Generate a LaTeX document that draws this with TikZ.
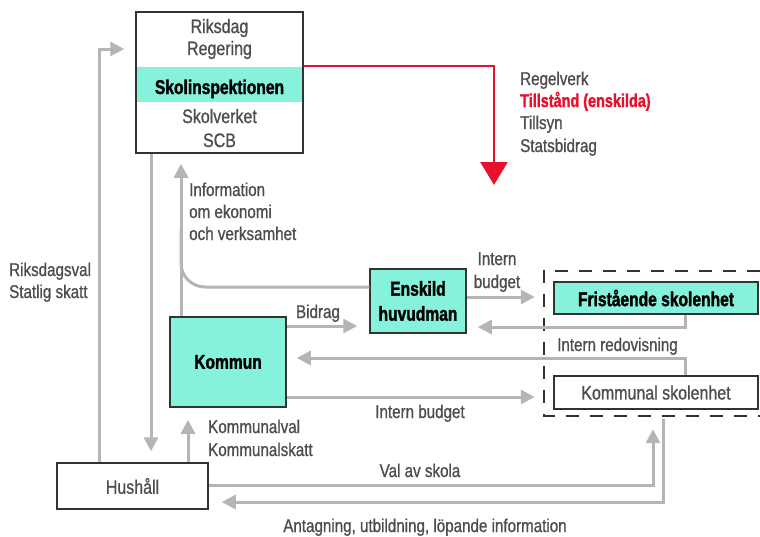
\documentclass[tikz,border=0pt]{standalone}
\usepackage{fontspec}
\setmainfont[FakeStretch=0.82, FakeBold=0.9]{Liberation Sans}
\newfontfamily\heavyfont[FakeStretch=0.78, BoldFeatures={FakeBold=1.6}]{Liberation Sans}
\usetikzlibrary{arrows.meta}
\definecolor{tealfill}{HTML}{86F2DC}
\definecolor{txtgray}{HTML}{4D4D4D}
\definecolor{linegray}{HTML}{B5B5B5}
\definecolor{redc}{HTML}{E8112D}
\definecolor{boxline}{HTML}{333333}
\begin{document}
\begin{tikzpicture}[x=1pt,y=-1pt,
  box/.style={draw=boxline, line width=1.5pt, inner sep=0pt, text=txtgray, font=\fontsize{19.5}{24}\selectfont, align=center},
  tealbox/.style={box, fill=tealfill, text=black, font=\heavyfont\bfseries\fontsize{20}{25}\selectfont},
  grpline/.style={draw=boxline, line width=1.5pt, dash pattern=on 13pt off 11pt},
  lbl/.style={text=txtgray, font=\fontsize{18.5}{23}\selectfont, inner sep=0pt},
  boxtxt/.style={text=txtgray, font=\fontsize{19.5}{24}\selectfont, inner sep=0pt},
  boldtxt/.style={text=black, font=\heavyfont\bfseries\fontsize{20}{25}\selectfont, inner sep=0pt},
  conn/.style={draw=linegray, line width=3pt, -{Triangle[length=14pt,width=14pt]}},
  plainline/.style={draw=linegray, line width=3pt},
  redarrow/.style={draw=redc, line width=2.5pt, -{Triangle[length=23pt,width=27pt]}},
]
\clip (0,0) rectangle (760,536);
\useasboundingbox (0,0) rectangle (760,536);

% teal band of the top box
\fill[tealfill] (136,67) rectangle (303,102);
% boxes
\node[box, minimum width=167pt, minimum height=141pt] (top) at (219.5,82.5) {};
\node[tealbox, minimum width=116pt, minimum height=90pt] (kommun) at (228,362) {Kommun};
\node[tealbox, minimum width=96pt, minimum height=64pt] (enskild) at (418,301) {Enskild\\huvudman};
\node[inner sep=0pt, minimum width=216pt, minimum height=145pt] (grp) at (652,343.5) {};
\draw[grpline] (grp.north east) -- (grp.north west) -- (grp.south west) -- (grp.south east);
\node[tealbox, minimum width=204pt, minimum height=32pt] (fri) at (656,298) {Fristående skolenhet};
\node[box, fill=white, minimum width=204pt, minimum height=33pt] (kskol) at (656,392.5) {Kommunal skolenhet};
\node[box, minimum width=151pt, minimum height=46pt] (hush) at (132.5,486) {Hushåll};

% top box texts
\node[boxtxt, anchor=base] (riks) at (219.5,33) {Riksdag};
\node[boxtxt, anchor=base] (reg) at (219.5,55) {Regering};
\node[boldtxt, anchor=base] (skolinsp) at (219.5,94) {Skolinspektionen};
\node[boxtxt, anchor=base] (skolverk) at (219.5,123) {Skolverket};
\node[boxtxt, anchor=base] (scb) at (219.5,147) {SCB};

% labels
\node[lbl, anchor=base west] (l1) at (520,85) {Regelverk};
\node[lbl, anchor=base west, text=redc, font=\heavyfont\bfseries\fontsize{18.5}{23}\selectfont] (l2) at (520,107) {Tillstånd (enskilda)};
\node[lbl, anchor=base west] (l3) at (520,129) {Tillsyn};
\node[lbl, anchor=base west] (l4) at (520,152) {Statsbidrag};

\node[lbl, anchor=base west] (i1) at (189,196) {Information};
\node[lbl, anchor=base west] (i2) at (189,218) {om ekonomi};
\node[lbl, anchor=base west] (i3) at (189,240) {och verksamhet};

\node[lbl, anchor=base west] (r1) at (9,276) {Riksdagsval};
\node[lbl, anchor=base west] (r2) at (9,298) {Statlig skatt};

\node[lbl, anchor=base] (bidrag) at (318,318) {Bidrag};
\node[lbl, anchor=base] (ib1) at (497,265) {Intern};
\node[lbl, anchor=base] (ib2) at (497,288) {budget};
\node[lbl, anchor=base west] (ired) at (557,351) {Intern redovisning};
\node[lbl, anchor=base] (ib3) at (420,418) {Intern budget};
\node[lbl, anchor=base west] (k1) at (208,433) {Kommunalval};
\node[lbl, anchor=base west] (k2) at (208,456) {Kommunalskatt};
\node[lbl, anchor=base] (val) at (420,477) {Val av skola};
\node[lbl, anchor=base] (antag) at (425,532) {Antagning, utbildning, löpande information};

% connectors
\coordinate (redend) at (494,185);
\draw[redarrow] (top.east |- 0,66) -| (redend);

\draw[conn, shorten >=11pt] (hush.north -| 99,0) |- (top.west |- 0,49);
\draw[conn, shorten >=11pt] (top.south -| 151,0) -- (hush.north -| 151,0);
\draw[conn, shorten >=12pt] (hush.north -| 188,0) -- (kommun.south -| 188,0);
\draw[conn, shorten >=10pt] (kommun.north -| 181,0) -- (top.south -| 181,0);
\draw[plainline, rounded corners=24pt] (enskild.west |- 0,287) -| (181,230);
\draw[conn, shorten >=12pt] (kommun.east |- 0,326) -- (enskild.west |- 0,326);
\draw[conn, shorten >=9pt] (enskild.east |- 0,297) -- (grp.west |- 0,297);
\draw[conn, shorten >=11pt] (fri.south -| 685,0) |- (enskild.east |- 0,327);
\draw[conn, shorten >=10pt] (kskol.north -| 685,0) |- (kommun.east |- 0,358);
\draw[conn, shorten >=9pt] (kommun.east |- 0,397) -- (grp.west |- 0,397);
\draw[conn, shorten >=13pt] (hush.east |- 0,485) -| (grp.south -| 653,0);
\draw[conn, shorten >=13pt, shorten <=3pt] (grp.south -| 663,0) |- (hush.east |- 0,502);
\end{tikzpicture}
\end{document}
